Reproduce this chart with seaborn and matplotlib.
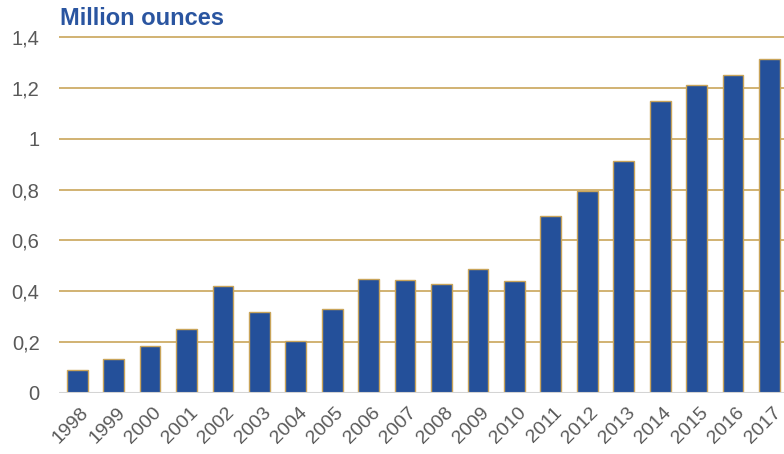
import matplotlib
matplotlib.use("Agg")
import matplotlib.pyplot as plt
import seaborn as sns
import pandas as pd
from matplotlib.transforms import ScaledTranslation

years = [str(y) for y in range(1998, 2018)]
values = [0.09, 0.135, 0.183, 0.252, 0.42, 0.317, 0.204, 0.33, 0.448, 0.444,
          0.428, 0.488, 0.44, 0.696, 0.794, 0.911, 1.148, 1.21, 1.252, 1.314]
ytick_vals = [0, 0.2, 0.4, 0.6, 0.8, 1.0, 1.2, 1.4]
ytick_labels = ["0", "0,2", "0,4", "0,6", "0,8", "1", "1,2", "1,4"]
title = "Million ounces"

sns.set_theme(style="white")
plt.rcParams['font.family'] = ['Liberation Sans', 'DejaVu Sans']

df = pd.DataFrame({"year": years, "value": values})

fig = plt.figure(figsize=(7.84, 4.54), dpi=100)
W, H = 784, 454
left_px, right_px, zero_px = 59, 784, 393
px_per_unit = 254.3
ytop = 1.45
top_px = zero_px - ytop * px_per_unit
ax = fig.add_axes([left_px / W, 1 - zero_px / H, (right_px - left_px) / W, (zero_px - top_px) / H])

sns.barplot(data=df, x="year", y="value", ax=ax, color="#24509A",
            edgecolor="#C9A45A", linewidth=1.0, width=0.57, saturation=1, zorder=3)

ax.set_xlim(-0.5, 19.4)
ax.set_ylim(0, ytop)
ax.set_yticks(ytick_vals)
ax.set_yticklabels(ytick_labels)
for v in ytick_vals[1:]:
    ax.axhline(v, color="#C9A55A", linewidth=1.2, zorder=1)
ax.axhline(0, color="#D4D4D4", linewidth=1.5, zorder=4)

for s in ax.spines.values():
    s.set_visible(False)
ax.set_xlabel("")
ax.set_ylabel("")
ax.tick_params(axis="y", length=0, pad=14, labelsize=14.5, labelcolor="#595959")
ax.tick_params(axis="x", length=0, pad=8, labelsize=14, labelcolor="#595959")
off = ScaledTranslation(2 / 72, 0, fig.dpi_scale_trans)
for lab in ax.get_xticklabels():
    lab.set_rotation(45)
    lab.set_ha("right")
    lab.set_va("top")
    lab.set_rotation_mode("anchor")
    lab.set_transform(lab.get_transform() + off)

fig.text(60 / W, 1 - 18.5 / H, title, color="#2A55A0", fontsize=17,
         fontweight="bold", ha="left", va="center")

fig.savefig("out.png", dpi=100)
